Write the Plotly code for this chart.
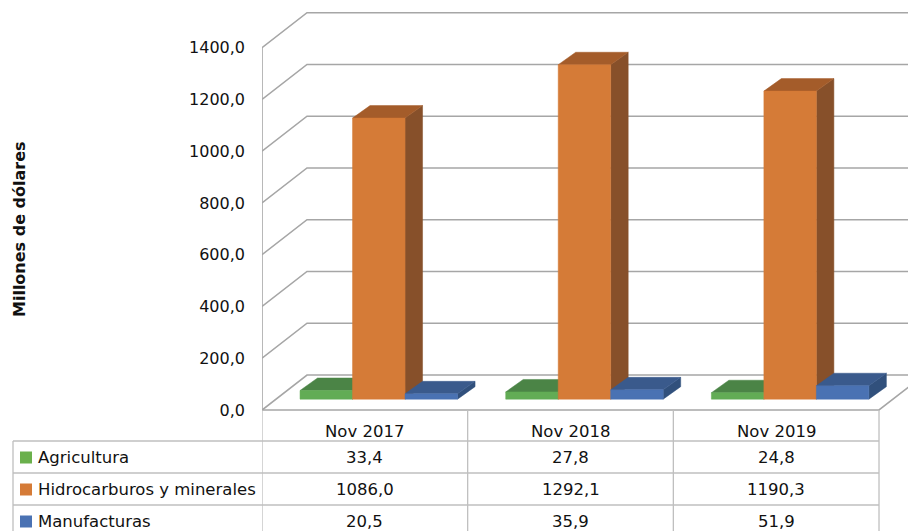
import plotly.graph_objects as go

# ---------------- data ----------------
categories = ["Nov 2017", "Nov 2018", "Nov 2019"]
series_names = ["Agricultura", "Hidrocarburos y minerales", "Manufacturas"]
agricultura = [33.4, 27.8, 24.8]
hidrocarburos = [1086.0, 1292.1, 1190.3]
manufacturas = [20.5, 35.9, 51.9]
tick_values = [0, 200, 400, 600, 800, 1000, 1200, 1400]
y_title = "Millones de dólares"

values = [agricultura, hidrocarburos, manufacturas]

# ---------------- styling / geometry ----------------
OFF = 8                    # page body margin
PAGE_W, PAGE_H = 916, 531
W, H = PAGE_W - OFF, PAGE_H - OFF
L_PAGE = 262               # page x of the front-left chart edge
L_MARGIN = L_PAGE - OFF
PX_PER_C = 205.67          # pixels per category unit
PX_PER_V = 0.2588          # pixels per value unit
FLOOR_PX = 410 - OFF       # figure pixel row of value 0 on the front plane

x_range = [-0.5, -0.5 + (W - L_MARGIN) / PX_PER_C]
y_range = [-(H - FLOOR_PX) / PX_PER_V, FLOOR_PX / PX_PER_V]

WDX = 45 / PX_PER_C        # wall depth (category units)
WDY = 35 / PX_PER_V        # wall depth (value units)
F0 = 0.31                  # bar front plane depth fraction
BX0, BY0 = F0 * WDX, F0 * WDY
BDX, BDY = 17.5 / PX_PER_C, 12.5 / PX_PER_V   # bar depth
BW = 52.5 / PX_PER_C       # bar width

front_cols = ["#62ac55", "#d57b37", "#4a72b3"]
top_cols = ["#4b8446", "#a45c2a", "#3a5a8c"]
side_cols = ["#3f6f3a", "#87502a", "#31507c"]
key_cols = ["#6ab04c", "#d57b37", "#4a72b3"]
GRID = "#a6a6a6"
TABLE = "#bfbfbf"
FONT = "DejaVu Sans"
TXT = "#111111"
TBL_SIZE = 16.5

fig = go.Figure()

# ---------------- walls / gridlines ----------------
gx, gy = [], []
x_back_right = len(categories) - 0.5 + WDX
for t in tick_values:
    gx += [-0.5, -0.5 + WDX, x_back_right, None]
    gy += [t, t + WDY, t + WDY, None]
gx += [-0.5, -0.5, None]
gy += [0, max(tick_values), None]
gx += [-0.5, len(categories) - 0.5, len(categories) - 0.5 + WDX]
gy += [0, 0, WDY]
fig.add_trace(go.Scatter(x=gx, y=gy, mode="lines",
                         line=dict(color=GRID, width=1.6),
                         hoverinfo="skip", showlegend=False))

# ---------------- 3D bars ----------------
def poly(xs, ys, color):
    fig.add_trace(go.Scatter(x=xs + [xs[0]], y=ys + [ys[0]], mode="lines",
                             fill="toself", fillcolor=color,
                             line=dict(color=color, width=0.5),
                             hoverinfo="skip", showlegend=False))

for i, cat in enumerate(categories):
    for k, vals in enumerate(values):
        v = vals[i]
        x0 = i + BX0 + (k - 1.5) * BW
        x1 = x0 + BW
        y0 = BY0
        y1 = BY0 + v
        poly([x1, x1 + BDX, x1 + BDX, x1], [y0, y0 + BDY, y1 + BDY, y1], side_cols[k])
        poly([x0, x1, x1 + BDX, x0 + BDX], [y1, y1, y1 + BDY, y1 + BDY], top_cols[k])
        poly([x0, x1, x1, x0], [y0, y0, y1, y1], front_cols[k])

# ---------------- data table ----------------
def px_x(px):
    return (px - OFF - L_MARGIN) / (W - L_MARGIN)

def px_y(py):
    return 1 - (py - OFF) / H

shapes = []
row_lines = [441, 473, 505]
for ry in row_lines:
    shapes.append(dict(type="line", xref="paper", yref="paper",
                       x0=px_x(13), x1=px_x(879), y0=px_y(ry), y1=px_y(ry),
                       line=dict(color=TABLE, width=1.3)))
shapes.append(dict(type="line", xref="paper", yref="paper",
                   x0=px_x(13), x1=px_x(13), y0=px_y(441), y1=0,
                   line=dict(color=TABLE, width=1.3)))
for i in range(len(categories) + 1):
    shapes.append(dict(type="line", xref="x", yref="paper",
                       x0=i - 0.5, x1=i - 0.5, y0=px_y(410), y1=0,
                       line=dict(color=TABLE, width=1.3)))

annotations = []
header_y = 431
row_ys = [457.5, 489.5, 521.5]
for i, cat in enumerate(categories):
    annotations.append(dict(x=i, y=px_y(header_y), xref="x", yref="paper",
                            xanchor="center", yanchor="middle",
                            text=cat, showarrow=False,
                            font=dict(family=FONT, size=TBL_SIZE, color=TXT)))
    for k, vals in enumerate(values):
        annotations.append(dict(x=i, y=px_y(row_ys[k]), xref="x", yref="paper",
                                xanchor="center", yanchor="middle",
                                text=f"{vals[i]:.1f}".replace(".", ","),
                                showarrow=False,
                                font=dict(family=FONT, size=TBL_SIZE, color=TXT)))

for k, name in enumerate(series_names):
    cy = row_ys[k]
    shapes.append(dict(type="rect", xref="paper", yref="paper",
                       x0=px_x(20), x1=px_x(32), y0=px_y(cy - 6), y1=px_y(cy + 6),
                       fillcolor=key_cols[k], line=dict(width=0)))
    annotations.append(dict(x=px_x(36), y=px_y(cy), xref="paper", yref="paper",
                            text=name, showarrow=False,
                            xanchor="left", yanchor="middle",
                            font=dict(family=FONT, size=TBL_SIZE, color=TXT)))

annotations.append(dict(x=px_x(19), y=px_y(229), xref="paper", yref="paper",
                        xanchor="center", yanchor="middle",
                        text=f"<b>{y_title}</b>", showarrow=False, textangle=-90,
                        font=dict(family=FONT, size=16, color=TXT)))

fig.update_layout(
    width=W, height=H,
    margin=dict(l=L_MARGIN, r=0, t=0, b=0),
    paper_bgcolor="white", plot_bgcolor="white",
    separators=",.",
    showlegend=False,
    shapes=shapes,
    annotations=annotations,
    xaxis=dict(range=x_range, visible=False, fixedrange=True),
    yaxis=dict(range=y_range, showgrid=False, zeroline=False, showline=False,
               tickvals=tick_values, tickformat=".1f",
               ticks="", ticklabelstandoff=16,
               tickfont=dict(family=FONT, size=16, color=TXT),
               fixedrange=True),
)

fig.write_html("out.html")
